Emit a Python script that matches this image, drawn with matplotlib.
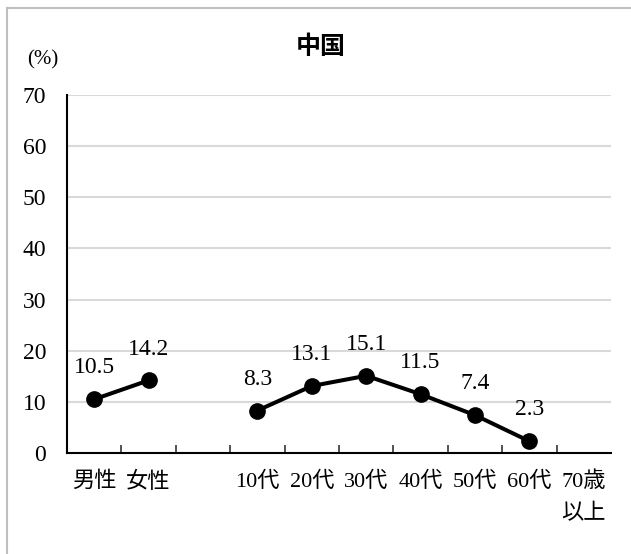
import numpy as np
import matplotlib
matplotlib.use('Agg')
import matplotlib.pyplot as plt
from matplotlib.lines import Line2D

plt.rcParams['font.family'] = ['Liberation Serif', 'Noto Sans CJK JP']

# data
categories = ['男性', '女性', '', '10代', '20代', '30代', '40代', '50代', '60代', '70歳\n以上']
gender_vals = [10.5, 14.2]
age_vals = [8.3, 13.1, 15.1, 11.5, 7.4, 2.3]
yticks = [0, 10, 20, 30, 40, 50, 60, 70]

fig = plt.figure(figsize=(6.31, 5.54), dpi=100)
ax = fig.add_axes([67 / 631, 1 - 453 / 554, 544 / 631, 358 / 554])

x = np.arange(len(categories))
gx = x[:2]
ax_x = x[3:3 + len(age_vals)]

for xs, vs in [(gx, gender_vals), (ax_x, age_vals)]:
    ax.plot(xs, vs, color='black', lw=2.9, marker='o', ms=11, zorder=3)
    for xi, v in zip(xs, vs):
        ax.annotate(f'{v:.1f}', (xi, v), xytext=(0, 15), textcoords='offset points',
                    ha='center', va='bottom', fontsize=17)

ax.set_xlim(-0.5, len(categories) - 0.5)
ax.set_ylim(0, 70)
ax.set_yticks(yticks)
ax.set_yticklabels([str(t) for t in yticks], fontsize=17)
ax.yaxis.grid(True, color='#d9d9d9', lw=1.5)
ax.set_axisbelow(True)
ax.tick_params(axis='y', length=0, pad=15)

# category labels with boundary ticks
ax.set_xticks(x[:-1] + 0.5)
ax.set_xticklabels([])
ax.tick_params(axis='x', direction='in', length=6, width=1.2, color='#333333')
for xi, lab in zip(x, categories):
    ax.text(xi, -0.052, lab, transform=ax.get_xaxis_transform(), ha='center', va='top',
            fontsize=16, family=['Liberation Serif', 'Noto Sans CJK JP'], linespacing=1.75)

for s in ['top', 'right']:
    ax.spines[s].set_visible(False)
ax.spines['left'].set_linewidth(1.5)
ax.spines['bottom'].set_linewidth(1.5)

fig.text(43 / 631, 1 - 60 / 554, '(%)', ha='center', va='center', fontsize=15)
fig.text(321 / 631, 1 - 47 / 554, '中国', ha='center', va='center', fontsize=18,
         fontweight='bold', family=['Noto Sans CJK JP'])

# chart border
fig.add_artist(Line2D([7 / 631, 1], [1 - 8 / 554] * 2, color='#bfbfbf', lw=1.5,
                      transform=fig.transFigure))
fig.add_artist(Line2D([7 / 631] * 2, [0, 1 - 8 / 554], color='#bfbfbf', lw=1.5,
                      transform=fig.transFigure))

fig.savefig('out.png', dpi=100)
